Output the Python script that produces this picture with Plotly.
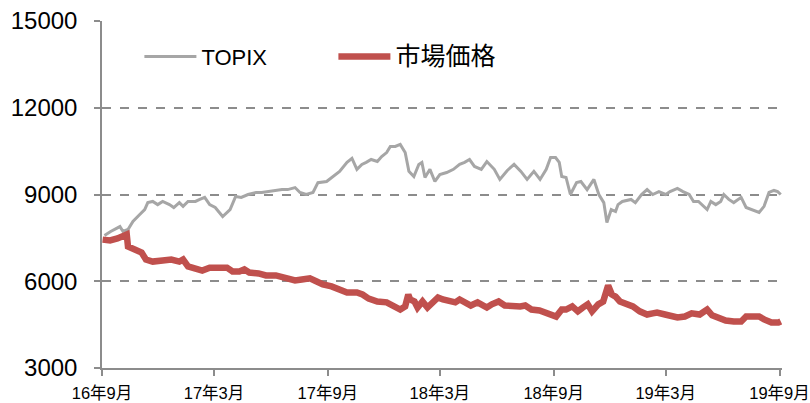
import plotly.graph_objects as go

# TOPIX (grey)
topix_dates = [
    "2016-09-05", "2016-09-15", "2016-09-30", "2016-10-05", "2016-10-13", "2016-10-21",
    "2016-11-01", "2016-11-09", "2016-11-14", "2016-11-22", "2016-11-30", "2016-12-08",
    "2016-12-19", "2016-12-26", "2017-01-04", "2017-01-10", "2017-01-18", "2017-01-30",
    "2017-02-06", "2017-02-14", "2017-02-22", "2017-03-03", "2017-03-15", "2017-03-27",
    "2017-04-05", "2017-04-14", "2017-04-25", "2017-05-08", "2017-05-17", "2017-05-26",
    "2017-06-07", "2017-06-19", "2017-06-28", "2017-07-10", "2017-07-18", "2017-07-28",
    "2017-08-08", "2017-08-16", "2017-08-30", "2017-09-08", "2017-09-20", "2017-10-02",
    "2017-10-10", "2017-10-18", "2017-10-26", "2017-11-02", "2017-11-10", "2017-11-20",
    "2017-11-27", "2017-12-05", "2017-12-11", "2017-12-19", "2017-12-27", "2018-01-04",
    "2018-01-10", "2018-01-18", "2018-01-26", "2018-01-31", "2018-02-05", "2018-02-13",
    "2018-02-21", "2018-03-01", "2018-03-12", "2018-03-23", "2018-04-02", "2018-04-10",
    "2018-04-18", "2018-04-26", "2018-05-07", "2018-05-16", "2018-05-28", "2018-06-06",
    "2018-06-18", "2018-06-29", "2018-07-10", "2018-07-20", "2018-07-31", "2018-08-10",
    "2018-08-20", "2018-08-27", "2018-09-04", "2018-09-10", "2018-09-14", "2018-09-21",
    "2018-09-28", "2018-10-08", "2018-10-15", "2018-10-25", "2018-11-05", "2018-11-13",
    "2018-11-21", "2018-11-26", "2018-12-03", "2018-12-10", "2018-12-14", "2018-12-21",
    "2019-01-04", "2019-01-11", "2019-01-21", "2019-01-30", "2019-02-08", "2019-02-18",
    "2019-03-01", "2019-03-08", "2019-03-20", "2019-03-29", "2019-04-08", "2019-04-15",
    "2019-04-23", "2019-05-07", "2019-05-13", "2019-05-21", "2019-05-29", "2019-06-03",
    "2019-06-11", "2019-06-19", "2019-07-01", "2019-07-09", "2019-07-19", "2019-07-30",
    "2019-08-07", "2019-08-15", "2019-08-23", "2019-08-29", "2019-09-03",
]
topix_values = [
    7580, 7720, 7890, 7720, 7790, 8070,
    8310, 8480, 8720, 8760, 8650, 8760,
    8650, 8550, 8720, 8590, 8760, 8760,
    8830, 8900, 8650, 8550, 8240, 8480,
    8930, 8900, 9000, 9070, 9070, 9100,
    9140, 9170, 9170, 9240, 9070, 9000,
    9070, 9410, 9450, 9590, 9800, 10110,
    10250, 9870, 10040, 10110, 10210, 10140,
    10310, 10450, 10660, 10660, 10730, 10450,
    9800, 9620, 10040, 10110, 9590, 9870,
    9450, 9690, 9760, 9870, 10040, 10110,
    10210, 9970, 9870, 10140, 9870, 9520,
    9830, 10040, 9800, 9520, 9800, 9520,
    9870, 10280, 10280, 10110, 9620, 9590,
    9000, 9410, 9450, 9170, 9520, 9000,
    8720, 8030, 8480, 8410, 8650, 8760,
    8830, 8720, 9000, 9170, 9000, 9100,
    9000, 9100, 9210, 9100, 9000, 8760,
    8760, 8480, 8760, 8650, 8760, 9000,
    8830, 8720, 8900, 8550, 8480, 8380,
    8590, 9070, 9140, 9100, 9000,
]

# 市場価格 (red)
price_dates = [
    "2016-09-02", "2016-09-14", "2016-09-26", "2016-10-05", "2016-10-11", "2016-10-13",
    "2016-10-21", "2016-11-04", "2016-11-11", "2016-11-22", "2016-12-08", "2016-12-22",
    "2017-01-04", "2017-01-10", "2017-01-18", "2017-02-01", "2017-02-10", "2017-02-22",
    "2017-03-10", "2017-03-22", "2017-03-31", "2017-04-11", "2017-04-19", "2017-04-27",
    "2017-05-12", "2017-05-24", "2017-06-09", "2017-06-26", "2017-07-10", "2017-07-21",
    "2017-08-03", "2017-08-14", "2017-08-24", "2017-09-07", "2017-09-20", "2017-10-02",
    "2017-10-18", "2017-10-27", "2017-11-06", "2017-11-20", "2017-12-05", "2017-12-15",
    "2017-12-27", "2018-01-04", "2018-01-09", "2018-01-12", "2018-01-19", "2018-01-24",
    "2018-02-01", "2018-02-09", "2018-02-16", "2018-02-26", "2018-03-06", "2018-03-16",
    "2018-03-26", "2018-04-02", "2018-04-13", "2018-04-20", "2018-05-01", "2018-05-16",
    "2018-05-24", "2018-06-04", "2018-06-14", "2018-06-25", "2018-07-09", "2018-07-17",
    "2018-07-27", "2018-08-09", "2018-08-20", "2018-08-28", "2018-09-05", "2018-09-14",
    "2018-09-21", "2018-10-01", "2018-10-10", "2018-10-18", "2018-10-26", "2018-11-02",
    "2018-11-12", "2018-11-20", "2018-11-26", "2018-11-28", "2018-12-04", "2018-12-10",
    "2018-12-17", "2018-12-28", "2019-01-07", "2019-01-18", "2019-01-30", "2019-02-08",
    "2019-02-15", "2019-02-28", "2019-03-11", "2019-03-20", "2019-04-01", "2019-04-12",
    "2019-04-25", "2019-05-07", "2019-05-15", "2019-05-24", "2019-06-06", "2019-06-19",
    "2019-07-01", "2019-07-09", "2019-07-19", "2019-07-30", "2019-08-07", "2019-08-19",
    "2019-08-30", "2019-09-03",
]
price_values = [
    7440, 7410, 7480, 7550, 7620, 7200,
    7100, 6990, 6750, 6680, 6720, 6750,
    6680, 6750, 6510, 6410, 6370, 6470,
    6470, 6470, 6340, 6340, 6410, 6300,
    6270, 6200, 6200, 6130, 6030, 6060,
    6100, 5990, 5890, 5820, 5680, 5610,
    5610, 5540, 5400, 5300, 5270, 5160,
    5020, 5130, 5540, 5370, 5300, 5090,
    5300, 5090, 5270, 5440, 5370, 5300,
    5270, 5370, 5270, 5160, 5270, 5090,
    5200, 5300, 5160, 5130, 5130, 5160,
    5020, 4990, 4920, 4820, 4780, 5020,
    5020, 5130, 4960, 5090, 5200, 4960,
    5200, 5300, 5640, 5850, 5540, 5470,
    5300, 5200, 5130, 4960, 4850, 4890,
    4920, 4850, 4780, 4750, 4780, 4890,
    4850, 5020, 4820, 4750, 4640, 4610,
    4610, 4780, 4780, 4780, 4680, 4570,
    4570, 4610,
]

tick_dates = ["2016-09-01", "2017-03-01", "2017-09-01", "2018-03-01", "2018-09-01", "2019-03-01", "2019-09-01"]
tick_labels = ["16年9月", "17年3月", "17年9月", "18年3月", "18年9月", "19年3月", "19年9月"]
y_ticks = [3000, 6000, 9000, 12000, 15000]
y_tick_labels = [str(v) for v in y_ticks]

AXIS_GREY = "#8c8c8c"
FONT = "Liberation Sans, Noto Sans CJK JP, sans-serif"

fig = go.Figure()
fig.add_trace(go.Scatter(
    x=topix_dates, y=topix_values, name="TOPIX", mode="lines",
    line=dict(color="#a6a6a6", width=3),
))
fig.add_trace(go.Scatter(
    x=price_dates, y=price_values,
    name="<span style='font-size:25px'>市場価格</span>", mode="lines",
    line=dict(color="#c0504d", width=6.5),
))

fig.update_layout(
    width=810, height=403,
    margin=dict(l=102, r=28, t=21, b=35),
    paper_bgcolor="white", plot_bgcolor="white",
    font=dict(family=FONT, color="#000000"),
    showlegend=True,
    legend=dict(
        orientation="h", x=0.055, y=0.897, xanchor="left", yanchor="middle",
        font=dict(size=22, family=FONT),
        bgcolor="rgba(0,0,0,0)", itemwidth=52, entrywidth=127,
    ),
    xaxis=dict(
        type="date", range=["2016-09-01", "2019-09-05"],
        tickvals=tick_dates, ticktext=tick_labels,
        showgrid=False, zeroline=False, automargin=False,
        showline=True, linecolor=AXIS_GREY, linewidth=1.5,
        ticks="outside", ticklen=6, tickcolor=AXIS_GREY, tickwidth=1.5,
        ticklabelstandoff=3, ticklabeloverflow="allow",
        tickfont=dict(size=16.5, family=FONT),
    ),
    yaxis=dict(
        range=[3000, 15000], tickvals=y_ticks, ticktext=y_tick_labels,
        showgrid=True, gridcolor=AXIS_GREY, griddash="dash", gridwidth=1.5,
        zeroline=False, automargin=False,
        showline=True, linecolor=AXIS_GREY, linewidth=1.5,
        ticks="outside", ticklen=6, tickcolor=AXIS_GREY, tickwidth=1.5,
        ticklabelstandoff=12,
        tickfont=dict(size=24),
    ),
)

fig.write_html("out.html")
